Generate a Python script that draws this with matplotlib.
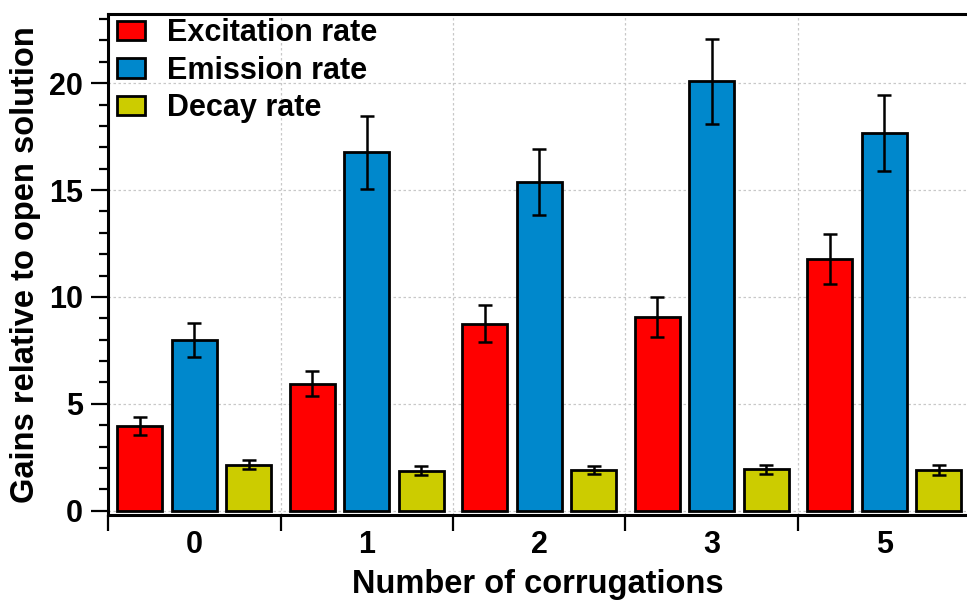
import numpy as np
import matplotlib
matplotlib.use("Agg")
from matplotlib import pyplot as plt
from matplotlib.ticker import MultipleLocator, FixedLocator

plt.rcParams['font.family'] = ['Liberation Sans', 'DejaVu Sans']
plt.rcParams['font.weight'] = 'bold'

groups = ['0', '1', '2', '3', '5']
seriesNames = ['Excitation rate', 'Emission rate', 'Decay rate']
excitation = [3.95, 5.95, 8.75, 9.05, 11.77]
excitationErr = [0.42, 0.6, 0.88, 0.93, 1.18]
emission = [7.97, 16.77, 15.38, 20.08, 17.67]
emissionErr = [0.8, 1.7, 1.55, 2.0, 1.78]
decay = [2.15, 1.88, 1.9, 1.94, 1.9]
decayErr = [0.22, 0.21, 0.2, 0.21, 0.22]

colors = ['#ff0000', '#0088cc', '#cccc00']

fig = plt.figure(figsize=(9.67, 6.02), dpi=100)
ax = fig.add_axes([0.1117, 0.1445, 0.8883, 0.832])

x = np.arange(len(groups))
width = 0.26
offset = 0.316
allValues = [excitation, emission, decay]
allErrors = [excitationErr, emissionErr, decayErr]
for i in range(3):
    ax.bar(x + (i - 1) * offset, allValues[i], width, color=colors[i],
           edgecolor='black', linewidth=2, label=seriesNames[i], zorder=3)
    ax.errorbar(x + (i - 1) * offset, allValues[i], yerr=allErrors[i], fmt='none',
                ecolor='black', elinewidth=1.8, capsize=5, capthick=1.8, zorder=4)

ax.set_xlim(-0.5, 4.48)
ax.set_ylim(-0.2, 23.23)

# y axis ticks
ax.yaxis.set_major_locator(MultipleLocator(5))
ax.yaxis.set_minor_locator(MultipleLocator(1))
ax.tick_params(axis='y', which='major', length=12, width=1.6, labelsize=22, pad=6)
ax.tick_params(axis='y', which='minor', length=6.5, width=1.6)

# x axis: labels at centers, ticks at group boundaries
ax.set_xticks(x)
ax.set_xticklabels(groups)
ax.xaxis.set_minor_locator(FixedLocator(np.arange(-0.5, 4.5, 1.0)))
ax.tick_params(axis='x', which='major', length=0, labelsize=22, pad=11)
ax.tick_params(axis='x', which='minor', length=11.5, width=1.6)

ax.grid(True, axis='y', which='major', color='#c8c8c8', linestyle=(0, (2, 2)), linewidth=0.9, zorder=0)
ax.grid(True, axis='x', which='minor', color='#c8c8c8', linestyle=(0, (2, 2)), linewidth=0.9, zorder=0)

for side in ['left', 'top', 'bottom']:
    ax.spines[side].set_linewidth(2.2)
ax.spines['right'].set_visible(False)

ax.set_ylabel('Gains relative to open solution', fontsize=23.5, fontweight='bold', labelpad=6)
ax.set_xlabel('Number of corrugations', fontsize=23.5, fontweight='bold', labelpad=6)

legend = ax.legend(loc='upper left', bbox_to_anchor=(0.009, 0.995), frameon=False,
                   fontsize=22, handlelength=0.92, handleheight=0.6, handletextpad=0.7,
                   labelspacing=0.25, borderaxespad=0.0, borderpad=0.05)

fig.savefig('out.png', dpi=100)
